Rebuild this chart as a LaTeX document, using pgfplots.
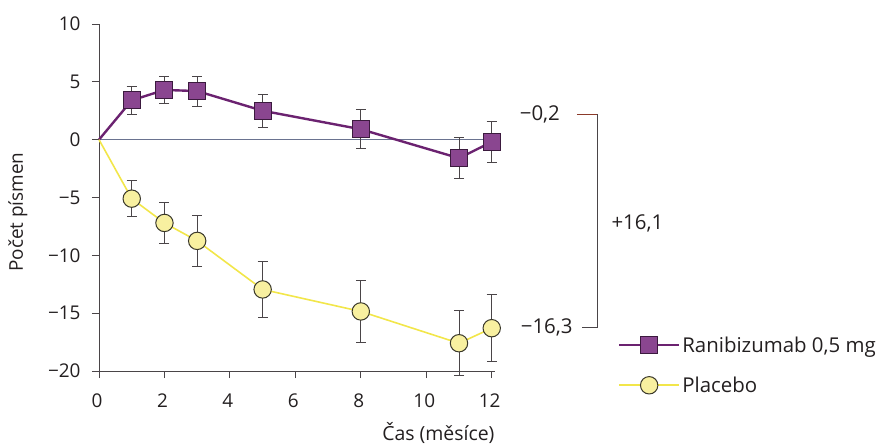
\documentclass[border=0pt]{standalone}
\usepackage{pgfplots}
\pgfplotsset{compat=1.18}
\usepackage{fontspec}
\setmainfont{Open Sans}

\definecolor{txt}{HTML}{231F20}
\definecolor{axisgray}{HTML}{4A4548}
\definecolor{ranline}{HTML}{6B2270}
\definecolor{ranfill}{HTML}{8A4690}
\definecolor{ranedge}{HTML}{3B1A3E}
\definecolor{plcline}{HTML}{F2E64A}
\definecolor{plcfill}{HTML}{F8F0A0}
\definecolor{plcedge}{HTML}{3A382A}
\definecolor{zeroline}{HTML}{6A7390}
\definecolor{bracketred}{HTML}{8B3A2A}

\begin{document}
\begin{tikzpicture}
\useasboundingbox (0,0) rectangle (890bp,444bp);
\begin{axis}[
  at={(99bp,73bp)}, anchor=south west,
  scale only axis,
  width=396bp, height=347bp,
  xmin=0, xmax=12.1,
  ymin=-20, ymax=10,
  clip=false,
  axis x line=bottom, axis y line=left,
  axis line style={-, axisgray, line width=0.9bp},
  tick style={axisgray, line width=0.9bp},
  tick align=outside,
  major tick length=7bp,
  xtick={0,2,4,6,8,10,12},
  ytick={-20,-15,-10,-5,0,5,10},
  yticklabels={−20,−15,−10,−5,0,5,10},
  /pgf/number format/assume math mode=true,
  ticklabel style={font=\fontsize{19}{22}\selectfont, text=txt},
  xticklabel style={yshift=-12bp},
  xticklabel style={xshift=-2bp},
  yticklabel style={xshift=-8bp},
  xlabel={Čas (měsíce)},
  ylabel={Počet písmen},
  every axis x label/.style={at={(rel axis cs:1,0)}, anchor=north east,
    yshift=-48bp, xshift=3bp, font=\fontsize{19.5}{23}\selectfont, text=txt},
  every axis y label/.style={at={(axis description cs:-0.205,0.458)},
    rotate=90, anchor=center, font=\fontsize{19}{22}\selectfont, text=txt},
  legend style={at={(1.31,0.105)}, anchor=north west, draw=none, fill=none,
    font=\fontsize{20.5}{24}\selectfont, text=txt, row sep=19bp,
    inner sep=0pt, nodes={inner sep=2bp},
    /tikz/every even column/.append style={column sep=14bp}},
  legend cell align=left,
  legend image code/.code={
    \draw[mark repeat=2, mark phase=2]
      plot coordinates {(0bp,0bp) (30bp,0bp) (60bp,0bp)};},
]
% zero reference line
\draw[zeroline, line width=0.8bp] (axis cs:0,0) -- (axis cs:12,0);

% error bars (behind the markers)
\addplot[draw=none, mark=none, forget plot,
  error bars/.cd, y dir=both, y explicit,
  error bar style={axisgray, line width=0.9bp},
  error mark options={rotate=90, mark size=5bp, axisgray, line width=0.9bp}]
  coordinates {
  (1,3.4) +- (0,1.2)
  (2,4.3) +- (0,1.2)
  (3,4.2) +- (0,1.3)
  (5,2.5) +- (0,1.45)
  (8,0.9) +- (0,1.7)
  (11,-1.6) +- (0,1.75)
  (12,-0.2) +- (0,1.8)
};
\addplot[draw=none, mark=none, forget plot,
  error bars/.cd, y dir=both, y explicit,
  error bar style={axisgray, line width=0.9bp},
  error mark options={rotate=90, mark size=5bp, axisgray, line width=0.9bp}]
  coordinates {
  (1,-5.1) +- (0,1.55)
  (2,-7.2) +- (0,1.75)
  (3,-8.75) +- (0,2.2)
  (5,-12.95) +- (0,2.4)
  (8,-14.85) +- (0,2.7)
  (11,-17.6) +- (0,2.8)
  (12,-16.3) +- (0,2.9)
};

% segments from the baseline to month 1
\addplot[ranline, line width=2.4bp, forget plot] coordinates {(0,0) (1,3.4)};
\addplot[plcline, line width=1.6bp, forget plot] coordinates {(0,0) (1,-5.1)};

% Ranibizumab 0,5 mg
\addplot[ranline, line width=2.4bp, mark=square*, mark size=8.5bp,
  mark options={fill=ranfill, draw=ranedge, line width=1bp, solid}]
  coordinates {(1,3.4) (2,4.3) (3,4.2) (5,2.5) (8,0.9) (11,-1.6) (12,-0.2)};
\addlegendentry{Ranibizumab 0,5 mg}

% Placebo
\addplot[plcline, line width=1.6bp, mark=*, mark size=8.7bp,
  mark options={fill=plcfill, draw=plcedge, line width=1bp, solid}]
  coordinates {(1,-5.1) (2,-7.2) (3,-8.75) (5,-12.95) (8,-14.85) (11,-17.6) (12,-16.3)};
\addlegendentry{Placebo}

% difference bracket at month 12
\node[font=\fontsize{20.5}{24}\selectfont, text=txt] at (axis cs:13.47,2.2) {−0,2};
\node[font=\fontsize{20.5}{24}\selectfont, text=txt] at (axis cs:13.68,-16.2) {−16,3};
\node[font=\fontsize{20.5}{24}\selectfont, text=txt] at (axis cs:16.45,-7.2) {+16,1};
\draw[bracketred, line width=0.9bp] (axis cs:14.6,2.2) -- (axis cs:15.24,2.2);
\draw[axisgray, line width=0.9bp] (axis cs:15.24,2.2) -- (axis cs:15.24,-16.2) -- (axis cs:14.75,-16.2);
\end{axis}
\end{tikzpicture}
\end{document}
